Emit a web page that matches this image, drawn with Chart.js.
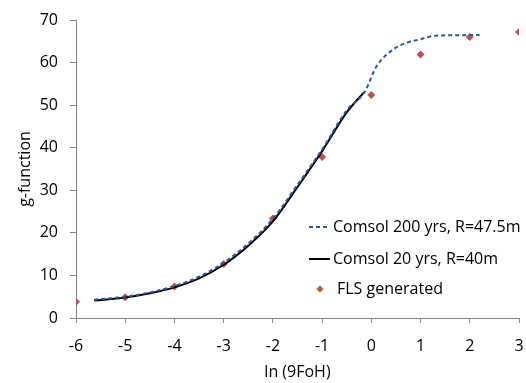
<!DOCTYPE html>
<html>
<head>
<meta charset="utf-8">
<script src="https://cdn.jsdelivr.net/npm/chart.js@4"></script>
<style>
  html, body { margin: 0; padding: 0; background: #fff; }
  #wrap { width: 526px; height: 383px; }
</style>
</head>
<body>
<div id="wrap"><canvas id="chart" width="526" height="383"></canvas></div>
<script>
// Comsol 200 yrs, R=47.5m (dashed blue)
const comsol200X = [-5.63, -5, -4.5, -4, -3.5, -3, -2.5, -2, -1.5, -1, -0.5, -0.13, 0.1, 0.5, 1.0, 1.3, 1.6, 2.2];
const comsol200Y = [4.3, 5.0, 6.0, 7.5, 9.7, 13.0, 17.5, 23.3, 31.3, 39.6, 48.8, 53.2, 59.0, 63.5, 65.5, 66.3, 66.4, 66.5];

// Comsol 20 yrs, R=40m (solid black)
const comsol20X = [-5.63, -5, -4.5, -4, -3.5, -3, -2.5, -2, -1.5, -1, -0.5, -0.15];
const comsol20Y = [4.1, 4.8, 5.8, 7.2, 9.3, 12.5, 17.0, 22.7, 30.8, 39.2, 48.3, 53.0];

// FLS generated (red diamonds)
const flsX = [-6, -5, -4, -3, -2, -1, 0, 1, 2, 3];
const flsY = [3.8, 4.85, 7.4, 12.7, 23.4, 37.8, 52.4, 61.9, 66.0, 67.2];

const axisColor = '#868686';
const fontFamily = "'Open Sans', 'Liberation Sans', sans-serif";

function toPoints(xs, ys) {
    return xs.map((x, i) => ({ x: x, y: ys[i] }));
}

// Legend drawn inside the plot area, like the original
const insideLegend = {
    id: 'insideLegend',
    afterDraw(chart) {
        const ctx = chart.ctx;
        const rows = [
            { ds: 0, y: 227 },
            { ds: 1, y: 259 },
            { ds: 2, y: 289 }
        ];
        ctx.save();
        ctx.font = '16px ' + fontFamily;
        ctx.textBaseline = 'middle';
        ctx.fillStyle = '#000';
        rows.forEach(r => {
            const ds = chart.data.datasets[r.ds];
            if (ds.showLine === false) {
                ctx.fillStyle = ds.pointBackgroundColor;
                ctx.beginPath();
                ctx.moveTo(320, r.y - 3.5);
                ctx.lineTo(323.5, r.y);
                ctx.lineTo(320, r.y + 3.5);
                ctx.lineTo(316.5, r.y);
                ctx.closePath();
                ctx.fill();
                ctx.fillStyle = '#000';
                ctx.fillText(ds.label, 337, r.y);
            } else {
                ctx.strokeStyle = ds.borderColor;
                ctx.lineWidth = ds.borderWidth;
                ctx.setLineDash(ds.borderDash || []);
                ctx.beginPath();
                ctx.moveTo(309, r.y);
                ctx.lineTo(330, r.y);
                ctx.stroke();
                ctx.setLineDash([]);
                ctx.fillText(ds.label, 333, r.y);
            }
        });
        ctx.restore();
    }
};

const ctx = document.getElementById('chart').getContext('2d');
const chart = new Chart(ctx, {
    type: 'scatter',
    data: {
        datasets: [
            {
                label: 'Comsol 200 yrs, R=47.5m',
                data: toPoints(comsol200X, comsol200Y),
                showLine: true,
                borderColor: '#2a5a9c',
                borderWidth: 2,
                borderDash: [4, 3],
                pointRadius: 0,
                tension: 0.4,
                cubicInterpolationMode: 'monotone'
            },
            {
                label: 'Comsol 20 yrs, R=40m',
                data: toPoints(comsol20X, comsol20Y),
                showLine: true,
                borderColor: '#000000',
                borderWidth: 2,
                pointRadius: 0,
                tension: 0.4,
                cubicInterpolationMode: 'monotone'
            },
            {
                label: 'FLS generated',
                data: toPoints(flsX, flsY),
                showLine: false,
                pointStyle: 'rectRot',
                pointRadius: 4,
                pointBackgroundColor: '#c0504d',
                pointBorderColor: '#c0504d',
                pointBorderWidth: 0
            }
        ]
    },
    options: {
        responsive: false,
        animation: false,
        layout: { padding: { top: 20, right: 7, left: 0, bottom: 0 } },
        plugins: {
            legend: { display: false },
            tooltip: { enabled: false }
        },
        scales: {
            x: {
                type: 'linear',
                min: -6,
                max: 3,
                afterFit: s => {
                    s.height = 65;
                    s.paddingLeft = 0;
                    s.paddingRight = 0;
                },
                ticks: {
                    stepSize: 1,
                    color: '#000',
                    padding: 14,
                    font: { family: fontFamily, size: 16 }
                },
                grid: { drawOnChartArea: false, drawTicks: true, tickLength: 5, color: axisColor },
                border: { color: axisColor, width: 1 },
                title: {
                    display: true,
                    text: 'ln (9FoH)',
                    color: '#000',
                    padding: { top: 0, bottom: 1 },
                    font: { family: fontFamily, size: 16 }
                }
            },
            y: {
                min: 0,
                max: 70,
                afterFit: s => {
                    s.width = 76;
                    s.paddingTop = 0;
                    s.paddingBottom = 0;
                },
                ticks: {
                    stepSize: 10,
                    color: '#000',
                    padding: 12,
                    font: { family: fontFamily, size: 16 }
                },
                grid: { drawOnChartArea: false, drawTicks: true, tickLength: 6, color: axisColor },
                border: { color: axisColor, width: 1 },
                title: {
                    display: true,
                    text: 'g-function',
                    color: '#000',
                    padding: { top: 16, bottom: 0 },
                    font: { family: fontFamily, size: 16 }
                }
            }
        }
    },
    plugins: [insideLegend]
});
</script>
</body>
</html>
